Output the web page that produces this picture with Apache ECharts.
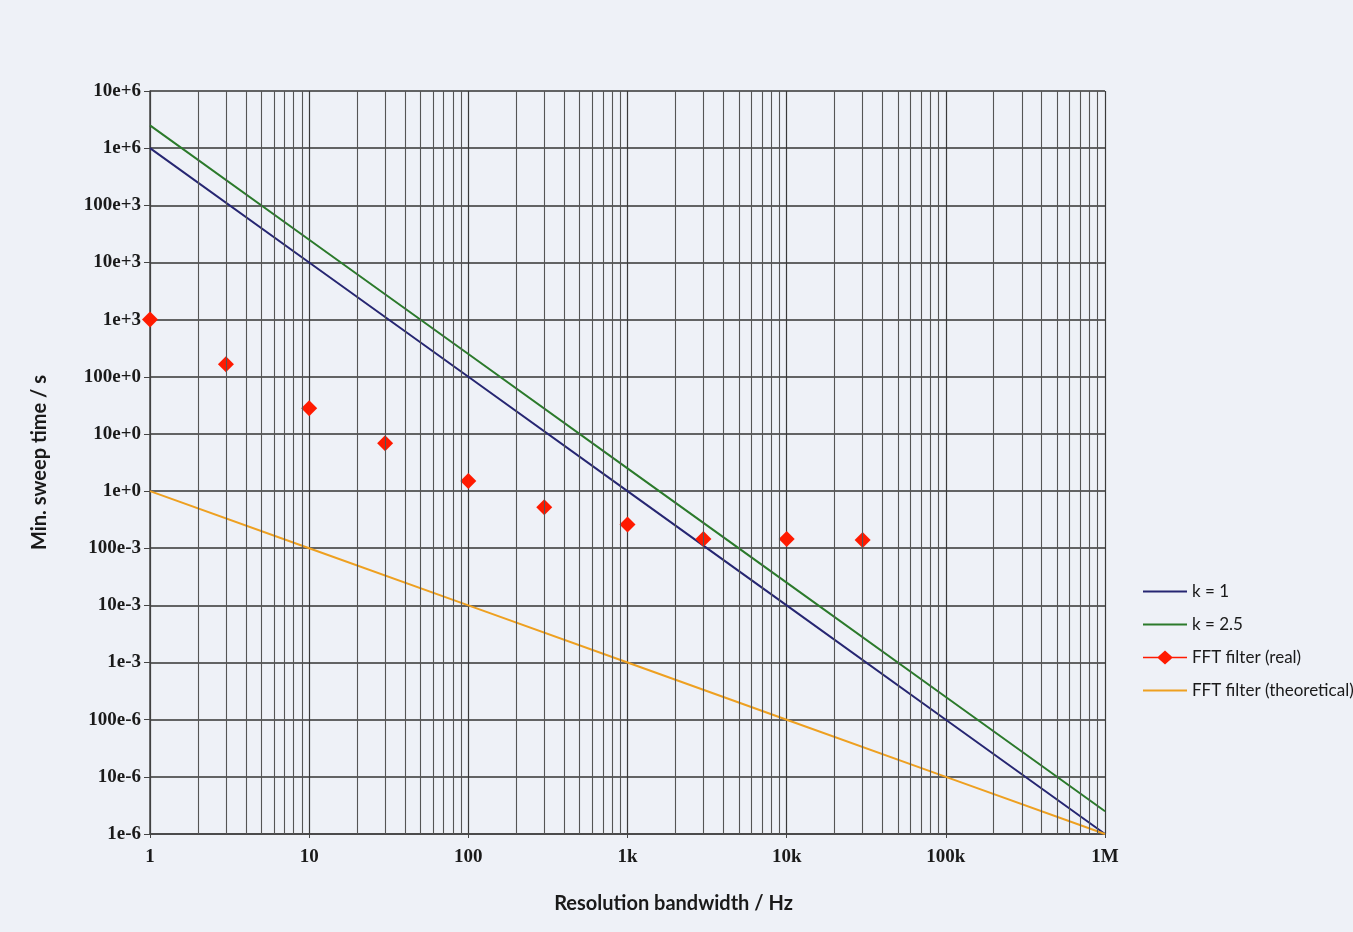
<!DOCTYPE html>
<html><head><meta charset="utf-8">
<script src="https://cdn.jsdelivr.net/npm/echarts@6/dist/echarts.min.js"></script>
<style>html,body{margin:0;padding:0;background:#eef1f7;}#c{width:1353px;height:932px;}</style>
</head><body><div id="c"></div>
<script>
const rbw = [1, 10, 100, 1e3, 1e4, 1e5, 1e6];
const k1 = [1e6, 1e4, 1e2, 1, 1e-2, 1e-4, 1e-6];
const k25 = [2.5e6, 2.5e4, 2.5e2, 2.5, 2.5e-2, 2.5e-4, 2.5e-6];
const fftTheo = [1, 1e-1, 1e-2, 1e-3, 1e-4, 1e-5, 1e-6];
const fftRbw = [1, 3, 10, 30, 100, 300, 1000, 3000, 10000, 30000];
const fftReal = [1000, 165, 28, 6.9, 1.5, 0.52, 0.26, 0.145, 0.145, 0.14];
const yLabels = {'-6':'1e-6','-5':'10e-6','-4':'100e-6','-3':'1e-3','-2':'10e-3','-1':'100e-3','0':'1e+0','1':'10e+0','2':'100e+0','3':'1e+3','4':'10e+3','5':'100e+3','6':'1e+6','7':'10e+6'};
const xLabels = {'0':'1','1':'10','2':'100','3':'1k','4':'10k','5':'100k','6':'1M'};
const legendNames = ['k = 1', 'k = 2.5', 'FFT filter (real)', 'FFT filter (theoretical)'];

const minorX = [];
for (let d = 1; d < 1e6; d *= 10) for (let m = 2; m <= 9; m++) minorX.push({xAxis: m * d});

const lab = 'Liberation Serif, DejaVu Serif, serif';
const narrow = 'Lato, Liberation Sans Narrow, sans-serif';
const pair = (xs, ys) => xs.map((x, i) => [x, ys[i]]);

const chart = echarts.init(document.getElementById('c'));
chart.setOption({
  backgroundColor: '#eef1f7',
  animation: false,
  grid: {left: 150, right: 248, top: 91, bottom: 98},
  legend: {
    orient: 'vertical', left: 1138, top: 578, itemGap: 16, itemWidth: 44, itemHeight: 14,
    textStyle: {fontFamily: narrow, fontSize: 17, color: '#1a1a1a'},
    data: [
      {name: legendNames[0], icon: 'path://M0,6h44v2h-44z'},
      {name: legendNames[1], icon: 'path://M0,6h44v2h-44z'},
      {name: legendNames[2], icon: 'path://M0,6.2h15l7,-6.2l7,6.2h15v1.6h-15l-7,6.2l-7,-6.2h-15z'},
      {name: legendNames[3], icon: 'path://M0,6h44v2h-44z'}
    ]
  },
  xAxis: {
    type: 'log', logBase: 10, min: 1, max: 1e6, interval: 1,
    name: 'Resolution bandwidth / Hz', nameLocation: 'middle', nameGap: 60,
    nameTextStyle: {fontFamily: narrow, fontSize: 20, fontWeight: 'bold', color: '#1a1a1a', padding: [0, 0, 0, 92]},
    axisLine: {show: true, lineStyle: {color: '#444', width: 1.5}},
    axisTick: {show: true, length: 4, lineStyle: {color: '#444'}},
    axisLabel: {fontFamily: lab, fontSize: 19, fontWeight: 'bold', color: '#1a1a1a', margin: 14,
      formatter: v => xLabels[String(Math.round(Math.log10(v)))] || ''},
    splitLine: {show: true, lineStyle: {color: '#3a3a3a', width: 1.2}}
  },
  yAxis: {
    type: 'log', logBase: 10, min: 1e-6, max: 1e7, interval: 1,
    name: 'Min. sweep time / s', nameLocation: 'middle', nameGap: 100,
    nameTextStyle: {fontFamily: narrow, fontSize: 20, fontWeight: 'bold', color: '#1a1a1a'},
    axisLine: {show: true, lineStyle: {color: '#444', width: 1.5}},
    axisTick: {show: true, length: 6, lineStyle: {color: '#444'}},
    axisLabel: {fontFamily: lab, fontSize: 19, fontWeight: 'bold', color: '#1a1a1a', margin: 9,
      formatter: v => yLabels[String(Math.round(Math.log10(v)))] || ''},
    splitLine: {show: true, lineStyle: {color: '#333', width: 1.5}}
  },
  series: [
    {name: 'k = 1', type: 'line', data: pair(rbw, k1), showSymbol: false, symbol: 'none',
      lineStyle: {color: '#262672', width: 2}, itemStyle: {color: '#262672'}, z: 3,
      markLine: {silent: true, symbol: 'none', label: {show: false},
        lineStyle: {color: '#555', width: 1.1, type: 'solid'}, data: minorX}},
    {name: 'k = 2.5', type: 'line', data: pair(rbw, k25), showSymbol: false, symbol: 'none',
      lineStyle: {color: '#2b7a2b', width: 2}, itemStyle: {color: '#2b7a2b'}, z: 3},
    {name: 'FFT filter (real)', type: 'line', data: pair(fftRbw, fftReal),
      lineStyle: {width: 0}, symbol: 'diamond', symbolSize: 16,
      itemStyle: {color: '#ff1a00'}, z: 4},
    {name: 'FFT filter (theoretical)', type: 'line', data: pair(rbw, fftTheo), showSymbol: false, symbol: 'none',
      lineStyle: {color: '#eea020', width: 2}, itemStyle: {color: '#eea020'}, z: 3}
  ]
});
</script></body></html>
